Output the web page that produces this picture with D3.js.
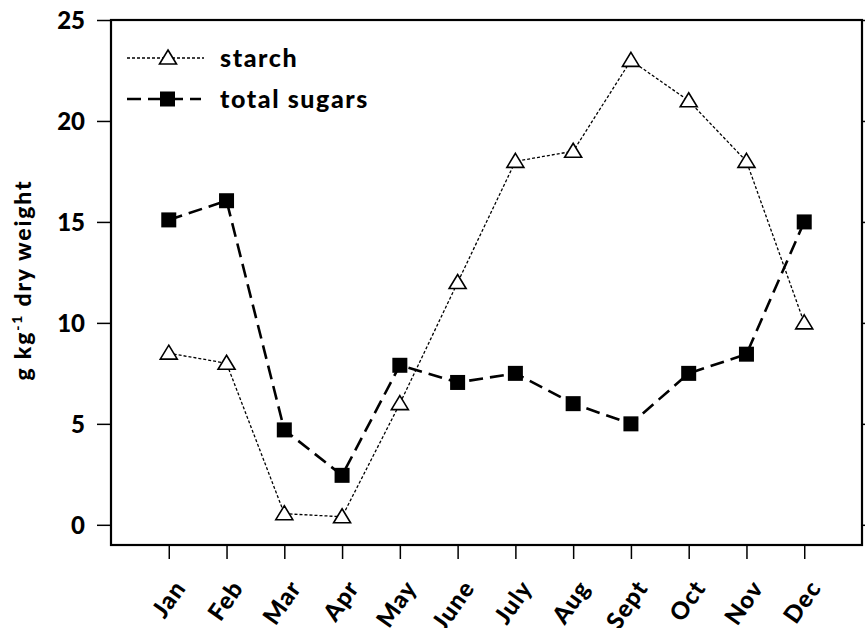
<!DOCTYPE html>
<html><head><meta charset="utf-8">
<script src="https://cdn.jsdelivr.net/npm/d3@7"></script>
<style>
body{margin:0;background:#fff;}
svg text{font-family:Lato,"Open Sans",sans-serif;font-weight:900;fill:#000;}
</style></head>
<body><svg id="c" width="865" height="628"></svg>
<script>
const months = ["Jan","Feb","Mar","Apr","May","June","July","Aug","Sept","Oct","Nov","Dec"];
const starch = [8.5,8.0,0.55,0.4,6.0,12.0,18.0,18.5,23.0,21.0,18.0,10.0];
const sugars = [15.1,16.05,4.7,2.45,7.9,7.05,7.5,6.0,5.0,7.5,8.45,15.0];
const yTicks = [0,5,10,15,20,25];
const seriesNames = ["starch","total sugars"];

const svg = d3.select("#c");
const L=111, R=862, T=20, B=545;
const x = d3.scaleLinear().domain([0,13]).range([L,R]);
const y = d3.scaleLinear().domain([-1,25]).range([B,T]);

// frame
svg.append("rect").attr("x",L).attr("y",T).attr("width",R-L).attr("height",B-T)
  .attr("fill","none").attr("stroke","#000").attr("stroke-width",2.2);

// left axis
const ya = svg.append("g").attr("transform",`translate(${L},0)`)
  .call(d3.axisLeft(y).tickValues(yTicks).tickSize(14).tickPadding(12).tickFormat(d3.format("d")));
ya.select(".domain").remove();
ya.selectAll("line").attr("stroke-width",1.5);
ya.selectAll("text").style("font-size","24px").attr("dy","0.36em");

// right axis ticks
const ra = svg.append("g").attr("transform",`translate(${R},0)`)
  .call(d3.axisRight(y).tickValues(yTicks).tickSize(8).tickFormat(""));
ra.select(".domain").remove();
ra.selectAll("line").attr("stroke-width",1.5);

// bottom axis
const xa = svg.append("g").attr("transform",`translate(0,${B})`)
  .call(d3.axisBottom(x).tickValues(d3.range(1,13)).tickSize(14).tickFormat(""));
xa.select(".domain").remove();
xa.selectAll("line").attr("stroke-width",1.5);
svg.append("g").selectAll("text").data(months).join("text")
  .attr("transform",(d,i)=>`translate(${x(i+1)+18},${B+43}) rotate(-55)`)
  .attr("text-anchor","end").style("font-size","24px").style("letter-spacing","1px").text(d=>d);

// y title
svg.append("text").attr("transform","translate(31,280) rotate(-90)")
  .attr("text-anchor","middle").style("font-size","23px").style("letter-spacing","1.8px")
  .html('g kg<tspan dy="-9" font-size="14px">-1</tspan><tspan dy="9"> dry weight</tspan>');

const line = d3.line().x((d,i)=>x(i+1)).y(d=>y(d));
// lines
svg.append("path").datum(starch).attr("d",line).attr("fill","none")
  .attr("stroke","#000").attr("stroke-width",1.3).attr("stroke-dasharray","3,2");
svg.append("path").datum(sugars).attr("d",line).attr("fill","none")
  .attr("stroke","#000").attr("stroke-width",2.6).attr("stroke-dasharray","14,7");

function triPath(){ // triangle wider than tall
  return "M0,-8L8.5,6L-8.5,6Z";
}
svg.append("g").selectAll("path").data(starch).join("path")
  .attr("transform",(d,i)=>`translate(${x(i+1)},${y(d)})`)
  .attr("d",triPath()).attr("fill","#fff").attr("stroke","#000").attr("stroke-width",1.6);
svg.append("g").selectAll("rect").data(sugars).join("rect")
  .attr("x",(d,i)=>x(i+1)-7.5).attr("y",d=>y(d)-7.5).attr("width",15).attr("height",15).attr("fill","#000");

// legend
const lg = svg.append("g");
lg.append("line").attr("x1",127).attr("x2",204).attr("y1",58).attr("y2",58)
  .attr("stroke","#000").attr("stroke-width",1.3).attr("stroke-dasharray","3,2");
lg.append("path").attr("transform","translate(168,58)").attr("d",triPath())
  .attr("fill","#fff").attr("stroke","#000").attr("stroke-width",1.6);
lg.append("line").attr("x1",127).attr("x2",201).attr("y1",99).attr("y2",99)
  .attr("stroke","#000").attr("stroke-width",2.6).attr("stroke-dasharray","14,7");
lg.append("rect").attr("x",160).attr("y",91.5).attr("width",15).attr("height",15).attr("fill","#000");
lg.selectAll("text.lg").data(seriesNames).join("text").attr("class","lg")
  .attr("x",220).attr("y",(d,i)=>[58,99][i]).attr("dy","0.36em")
  .style("font-size","25px").style("letter-spacing","1.6px").text(d=>d);
</script></body></html>
